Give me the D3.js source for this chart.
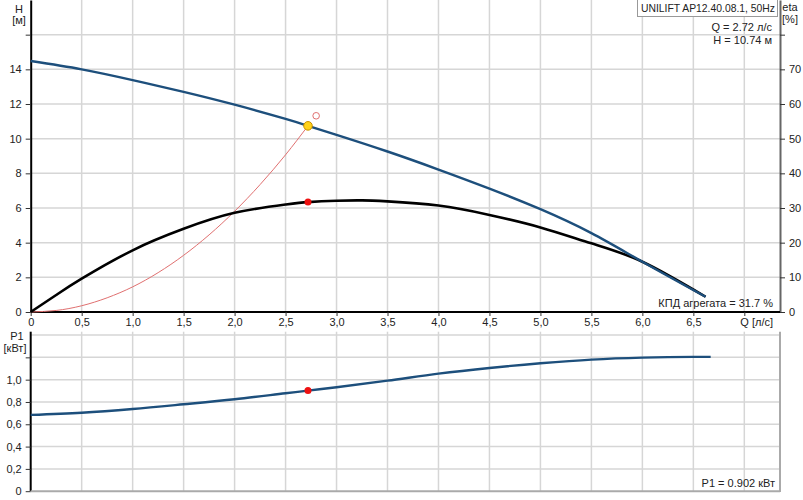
<!DOCTYPE html>
<html><head><meta charset="utf-8">
<script src="https://cdn.jsdelivr.net/npm/d3@7"></script>
<style>
body{margin:0;background:#fff;}
svg{display:block;font-family:"Liberation Sans",Arial,sans-serif;}
</style></head>
<body><svg id="c" width="803" height="500"></svg>
<script>
// ---- data ----
const qTicks = [0,0.5,1.0,1.5,2.0,2.5,3.0,3.5,4.0,4.5,5.0,5.5,6.0,6.5,7.0];
const hTicks = [0,2,4,6,8,10,12,14,16];
const etaTicks = [0,10,20,30,40,50,60,70,80];
const pTicks = [0,0.2,0.4,0.6,0.8,1.0,1.2,1.4];

const qH   = [0,0.5,1.0,1.5,2.0,2.5,2.72,3.0,3.5,4.0,4.5,5.0,5.5,6.0,6.62];
const hVal = [14.48,14.00,13.38,12.70,11.96,11.14,10.74,10.22,9.26,8.22,7.12,5.93,4.55,2.90,0.88];

const qEta = [0,0.25,0.5,1.0,1.5,2.0,2.5,2.72,3.0,3.25,3.5,4.0,4.5,5.0,5.5,6.0,6.62];
const etaVal = [0,4.9,9.6,17.8,24.0,28.6,31.0,31.7,32.1,32.2,31.9,30.7,28.0,24.4,19.8,14.5,4.4];

const qSys = [0,0.25,0.5,0.75,1.0,1.25,1.5,1.75,2.0,2.25,2.5,2.72];
const hSys = [0,0.09,0.36,0.82,1.45,2.27,3.27,4.45,5.81,7.35,9.07,10.74];

const qP = [0,0.5,1.0,1.5,2.0,2.5,2.72,3.0,3.5,4.0,4.5,5.0,5.5,6.0,6.5,6.67];
const pVal = [0.684,0.704,0.737,0.779,0.824,0.878,0.902,0.932,0.991,1.054,1.105,1.147,1.180,1.198,1.204,1.204];

const opQ = 2.72, opH = 10.74, opEta = 31.7, opP = 0.902;
const reqQ = 2.80, reqH = 11.32;

const title = "UNILIFT AP12.40.08.1, 50Hz";
const qText = "Q = 2.72 л/с", hText = "H = 10.74 м";
const etaText = "КПД агрегата = 31.7 %", pText = "P1 = 0.902 кВт";

// ---- scales ----
const svg = d3.select("#c");
const x = d3.scaleLinear().domain([0,7.35]).range([30.7,780]);
const yH = d3.scaleLinear().domain([0,18]).range([312,0]);
const yE = d3.scaleLinear().domain([0,90]).range([312,0]);
const yP = d3.scaleLinear().domain([0,1.43]).range([491.2,331.7]);
const fmt = v => v===0 ? "0" : v.toFixed(1).replace(".",",");
const gridC = "#d6d6d6";

// grid top
const g = svg.append("g");
g.selectAll(".vg").data(qTicks.filter(d=>d>0)).join("line")
  .attr("x1",d=>x(d)).attr("x2",d=>x(d)).attr("y1",0).attr("y2",312)
  .attr("stroke",gridC).attr("stroke-width",1.5);
g.selectAll(".hg").data(hTicks.filter(d=>d>0)).join("line")
  .attr("x1",x(0)).attr("x2",780).attr("y1",d=>yH(d)).attr("y2",d=>yH(d))
  .attr("stroke",gridC).attr("stroke-width",1.5);
// grid bottom
g.selectAll(".vg2").data(qTicks.filter(d=>d>0)).join("line")
  .attr("x1",d=>x(d)).attr("x2",d=>x(d)).attr("y1",331.7).attr("y2",491)
  .attr("stroke",gridC).attr("stroke-width",1.5);
g.selectAll(".hg2").data(pTicks.filter(d=>d>0)).join("line")
  .attr("x1",x(0)).attr("x2",780).attr("y1",d=>yP(d)).attr("y2",d=>yP(d))
  .attr("stroke",gridC).attr("stroke-width",1.5);

// axes
function styleAxis(sel, color, sw){
  sel.select(".domain").attr("stroke",color).attr("stroke-width",sw);
  sel.selectAll(".tick line").attr("stroke","#333");
  sel.selectAll(".tick text").attr("fill","#222").style("font-size","11px").style("font-family","'Liberation Sans',Arial,sans-serif");
}
const axL = svg.append("g").attr("transform",`translate(${x(0)},0)`)
  .call(d3.axisLeft(yH).tickValues(hTicks).tickSizeInner(5).tickSizeOuter(0).tickPadding(4)
    .tickFormat(d=>d===16?"":d));
styleAxis(axL,"#000",2);
const axR = svg.append("g").attr("transform",`translate(780,0)`)
  .call(d3.axisRight(yE).tickValues(etaTicks).tickSizeInner(5).tickSizeOuter(0).tickPadding(4)
    .tickFormat(d=>d===80?"":d));
styleAxis(axR,"#666",2);
const axB = svg.append("g").attr("transform",`translate(0,312)`)
  .call(d3.axisBottom(x).tickValues(qTicks).tickSizeInner(4).tickSizeOuter(0).tickPadding(2)
    .tickFormat(d=>d===7?"":fmt(d)));
styleAxis(axB,"#000",2);
axB.select(".domain").attr("d",`M${x(0)},0H780`);

const axPL = svg.append("g").attr("transform",`translate(${x(0)},0)`)
  .call(d3.axisLeft(yP).tickValues(pTicks.filter(d=>d<1.3)).tickSizeInner(5).tickSizeOuter(0).tickPadding(4)
    .tickFormat(d=>d>1.1?"":fmt(d)));
styleAxis(axPL,"#000",2);
axPL.select(".domain").attr("d",`M0,331.7V491.2`);
svg.append("line").attr("x1",x(0)).attr("x2",780).attr("y1",491.2).attr("y2",491.2).attr("stroke","#aaa").attr("stroke-width",2);
svg.append("line").attr("x1",780).attr("x2",780).attr("y1",331.7).attr("y2",492).attr("stroke","#aaa").attr("stroke-width",2);

// curves
const lineH = d3.line().x((d,i)=>x(qH[i])).y(d=>yH(d)).curve(d3.curveNatural);
const lineE = d3.line().x((d,i)=>x(qEta[i])).y(d=>yE(d)).curve(d3.curveNatural);
const lineS = d3.line().x((d,i)=>x(qSys[i])).y(d=>yH(d)).curve(d3.curveNatural);
const lineP = d3.line().x((d,i)=>x(qP[i])).y(d=>yP(d)).curve(d3.curveMonotoneX);

svg.append("path").attr("d",lineS(hSys)).attr("fill","none").attr("stroke","#e07070").attr("stroke-width",1);
svg.append("path").attr("d",lineE(etaVal)).attr("fill","none").attr("stroke","#000").attr("stroke-width",2.6);
svg.append("path").attr("d",lineH(hVal)).attr("fill","none").attr("stroke","#1d4f7c").attr("stroke-width",2.4);
svg.append("path").attr("d",lineP(pVal)).attr("fill","none").attr("stroke","#1d4f7c").attr("stroke-width",2.4);

// markers
svg.append("circle").attr("cx",x(reqQ)).attr("cy",yH(reqH)).attr("r",3.3).attr("fill","none").attr("stroke","#e07070").attr("stroke-width",1);
svg.append("circle").attr("cx",x(opQ)).attr("cy",yH(opH)).attr("r",4.3).attr("fill","#ffd21a").attr("stroke","#c89000").attr("stroke-width",1);
svg.append("circle").attr("cx",x(opQ)).attr("cy",yE(opEta)).attr("r",3.5).attr("fill","#ee1111");
svg.append("circle").attr("cx",x(opQ)).attr("cy",yP(opP)).attr("r",3.5).attr("fill","#ee1111");

// texts
const T = (tx,ty,s,anchor="start") => svg.append("text").attr("x",tx).attr("y",ty).text(s)
  .attr("text-anchor",anchor).attr("fill","#222").style("font-size","11px");
T(19,13,"H","middle");
T(19,24,"[м]","middle");
T(790,11,"eta","middle");
T(790,23,"[%]","middle");
T(17,340,"P1","middle");
T(15,352,"[кВт]","middle");
T(773,326,"Q [л/с]","end");
T(773,307,etaText,"end");
T(775,487,pText,"end");
T(772,31,qText,"end");
T(772,44,hText,"end");
svg.append("rect").attr("x",637.5).attr("y",-0.5).attr("width",140).attr("height",17).attr("fill","#fff").attr("stroke","#999");
T(641,12,title,"start").attr("textLength",134).attr("lengthAdjust","spacingAndGlyphs");
</script></body></html>
